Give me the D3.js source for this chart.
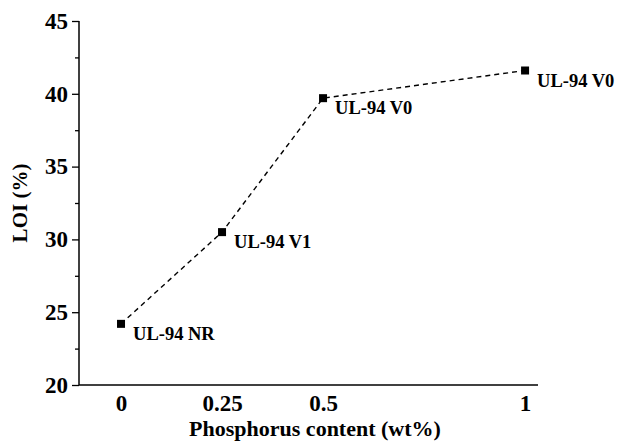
<!DOCTYPE html>
<html>
<head>
<meta charset="utf-8">
<script src="https://cdn.jsdelivr.net/npm/d3@7"></script>
<style>
  body { margin: 0; background: #fff; }
  text { font-family: "Liberation Serif", "Times New Roman", serif; font-weight: bold; fill: #000; }
</style>
</head>
<body>
<div id="chart"></div>
<script>
/* data */
const phosphorus = [0, 0.25, 0.5, 1];
const loi = [24.2, 30.5, 39.7, 41.6];
const ratings = ["UL-94 NR", "UL-94 V1", "UL-94 V0", "UL-94 V0"];
const xTicks = [0, 0.25, 0.5, 1];
const yTicks = [20, 25, 30, 35, 40, 45];
const yMinor = [22.5, 27.5, 32.5, 37.5, 42.5];

const W = 617, H = 442;
const m = { left: 79, right: 538, top: 21, bottom: 385 };

const svg = d3.select("#chart").append("svg")
    .attr("width", W).attr("height", H);

/* scales */
const x = d3.scaleLinear().domain([-0.104, 1.032]).range([m.left, m.right]);
const y = d3.scaleLinear().domain([20, 45]).range([m.bottom, m.top]);

/* y axis with major + minor ticks */
const yAxis = svg.append("g")
    .attr("transform", `translate(${m.left},0)`)
    .call(d3.axisLeft(y).tickValues(yTicks).tickSize(7).tickPadding(4).tickFormat(d3.format("d")));
svg.append("g")
    .attr("transform", `translate(${m.left},0)`)
    .call(d3.axisLeft(y).tickValues(yMinor).tickSize(4).tickFormat(""))
    .select(".domain").remove();

/* x axis, no tick marks */
const xAxis = svg.append("g")
    .attr("transform", `translate(0,${m.bottom})`)
    .call(d3.axisBottom(x).tickValues(xTicks).tickSize(0).tickPadding(10).tickFormat(d => String(d)));

// plain lines for axis domains (no end caps)
yAxis.select(".domain").attr("d", `M0,${m.top}V${m.bottom}`);
xAxis.select(".domain").attr("d", `M${m.left},0H${m.right}`);
svg.selectAll(".domain").attr("stroke", "#000").attr("stroke-width", 1.5);

svg.selectAll(".tick line").attr("stroke", "#000").attr("stroke-width", 1.3);
svg.selectAll(".tick text").style("font-size", "23px")
    .style("font-family", "'Liberation Serif', serif").style("font-weight", "bold");

/* axis titles */
svg.append("text")
    .attr("x", 315).attr("y", 436)
    .attr("text-anchor", "middle")
    .style("font-size", "22px")
    .text("Phosphorus content (wt%)");
svg.append("text")
    .attr("transform", `translate(27,${(m.top + m.bottom) / 2}) rotate(-90)`)
    .attr("text-anchor", "middle")
    .style("font-size", "21px")
    .text("LOI (%)");

/* dashed line + markers */
const pts = phosphorus.map((p, i) => ({ p, v: loi[i], r: ratings[i] }));
const line = d3.line().x(d => x(d.p)).y(d => y(d.v));
svg.append("path")
    .datum(pts)
    .attr("d", line)
    .attr("fill", "none")
    .attr("stroke", "#000")
    .attr("stroke-width", 1.4)
    .attr("stroke-dasharray", "5,4");

svg.selectAll("rect.pt")
    .data(pts).enter()
    .append("rect").attr("class", "pt")
    .attr("x", d => x(d.p) - 4).attr("y", d => y(d.v) - 4)
    .attr("width", 8).attr("height", 8)
    .attr("fill", "#000");

svg.selectAll("text.lbl")
    .data(pts).enter()
    .append("text").attr("class", "lbl")
    .attr("x", d => x(d.p) + 12).attr("y", d => y(d.v) + 16)
    .style("font-size", "18.5px")
    .text(d => d.r);
</script>
</body>
</html>
